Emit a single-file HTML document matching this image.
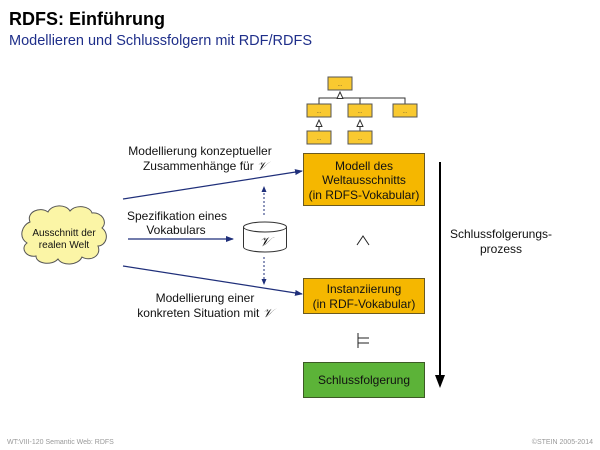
<!DOCTYPE html>
<html><head><meta charset="utf-8"><style>
body{margin:0;width:600px;height:450px;background:#fff;overflow:hidden}
svg{display:block;font-family:"Liberation Sans",sans-serif}
</style></head><body>
<svg width="600" height="450" viewBox="0 0 600 450">
<defs>
<marker id="a" markerWidth="8" markerHeight="6" refX="7" refY="3" orient="auto" markerUnits="userSpaceOnUse"><path d="M0,0L8,3L0,6z" fill="#1f2f7a"/></marker>
<marker id="b" markerWidth="6" markerHeight="5" refX="5" refY="2.5" orient="auto" markerUnits="userSpaceOnUse"><path d="M0,0L6,2.5L0,5z" fill="#1f2f7a"/></marker>
<marker id="t" markerWidth="8" markerHeight="7" refX="7" refY="3.5" orient="auto" markerUnits="userSpaceOnUse"><path d="M0.5,0.5L7,3.5L0.5,6.5z" fill="#fff" stroke="#333" stroke-width="1"/></marker>
</defs>
<text x="9" y="25" font-size="18" font-weight="bold" fill="#000">RDFS: Einführung</text>
<text x="9" y="45" font-size="14.5" fill="#1f2f8a">Modellieren und Schlussfolgern mit RDF/RDFS</text>

<g stroke="#333" stroke-width="1" fill="none">
<path d="M319,104V98H405V104M360,98V104"/>
<line x1="340" y1="98" x2="340" y2="92" marker-end="url(#t)"/>
<line x1="319" y1="131" x2="319" y2="120" marker-end="url(#t)"/>
<line x1="360" y1="131" x2="360" y2="120" marker-end="url(#t)"/>
</g>
<g fill="#f9c930" stroke="#555" stroke-width="1">
<rect x="328" y="77" width="24" height="13"/>
<rect x="307" y="104" width="24" height="13"/>
<rect x="348" y="104" width="24" height="13"/>
<rect x="393" y="104" width="24" height="13"/>
<rect x="307" y="131" width="24" height="13"/>
<rect x="348" y="131" width="24" height="13"/>
</g>
<g font-size="5" fill="#333" text-anchor="middle">
<text x="340" y="86">...</text><text x="319" y="113">...</text><text x="360" y="113">...</text><text x="405" y="113">...</text><text x="319" y="140">...</text><text x="360" y="140">...</text>
</g>

<rect x="303.5" y="153.5" width="121" height="52" fill="#f5b700" stroke="#6b5a20"/>
<rect x="303.5" y="278.5" width="121" height="35" fill="#f5b700" stroke="#6b5a20"/>
<rect x="303.5" y="362.5" width="121" height="35" fill="#5cb338" stroke="#3d5a25"/>
<g font-size="12" fill="#111" text-anchor="middle">
<text x="364" y="170">Modell des</text>
<text x="364" y="184">Weltausschnitts</text>
<text x="364" y="199">(in RDFS-Vokabular)</text>
<text x="364" y="293">Instanziierung</text>
<text x="364" y="308">(in RDF-Vokabular)</text>
<text x="364" y="384">Schlussfolgerung</text>
</g>
<path d="M357,245L363,236L369,245" fill="none" stroke="#222" stroke-width="1"/>
<path d="M358,333V348M358,338H369M358,343H369" fill="none" stroke="#222" stroke-width="1"/>

<line x1="440" y1="162" x2="440" y2="377" stroke="#000" stroke-width="2"/>
<path d="M435,375L440,388L445,375z" fill="#000"/>
<g font-size="12" fill="#111" text-anchor="middle">
<text x="501" y="238">Schlussfolgerungs-</text>
<text x="501" y="253">prozess</text>
</g>

<path d="M30,222 C26,212 40,206 48,212 C52,204 66,204 70,211 C76,204 90,206 92,213 C102,212 108,222 102,228 C110,234 106,246 98,246 C102,256 90,262 82,257 C78,266 62,266 58,259 C52,266 36,264 36,256 C26,258 20,248 27,243 C18,237 22,225 30,222 Z" fill="#fbf5a6" stroke="#555" stroke-width="1"/>
<g font-size="10" fill="#111" text-anchor="middle">
<text x="64" y="236">Ausschnitt der</text>
<text x="64" y="248">realen Welt</text>
</g>

<path d="M243.5,227V247A21.5,5 0 0 0 286.5,247V227" fill="#fff" stroke="#333"/>
<ellipse cx="265" cy="227" rx="21.5" ry="5" fill="#fff" stroke="#333"/>
<text x="265" y="246" font-size="13" font-style="italic" font-family="Liberation Serif,serif" text-anchor="middle" fill="#111">𝒱</text>

<g stroke="#1f2f7a" stroke-width="1.2" fill="none">
<line x1="123" y1="199" x2="302" y2="171" marker-end="url(#a)"/>
<line x1="128" y1="239" x2="233" y2="239" marker-end="url(#a)"/>
<line x1="123" y1="266" x2="302" y2="294" marker-end="url(#a)"/>
<line x1="264" y1="215" x2="264" y2="187" stroke-dasharray="2,2" stroke-width="1" marker-end="url(#b)"/>
<line x1="264" y1="257" x2="264" y2="284" stroke-dasharray="2,2" stroke-width="1" marker-end="url(#b)"/>
</g>
<g font-size="12" fill="#111" text-anchor="middle">
<text x="200" y="155">Modellierung konzeptueller</text>
<text x="205" y="170">Zusammenhänge für <tspan font-family="Liberation Serif,serif" font-style="italic">𝒱</tspan></text>
<text x="177" y="220">Spezifikation eines</text>
<text x="176" y="234">Vokabulars</text>
<text x="205" y="302">Modellierung einer</text>
<text x="205" y="317">konkreten Situation mit <tspan font-family="Liberation Serif,serif" font-style="italic">𝒱</tspan></text>
</g>

<g font-size="7" fill="#999">
<text x="7" y="444">WT:VIII-120   Semantic Web: RDFS</text>
<text x="593" y="444" text-anchor="end">©STEIN 2005-2014</text>
</g>
</svg>
</body></html>
